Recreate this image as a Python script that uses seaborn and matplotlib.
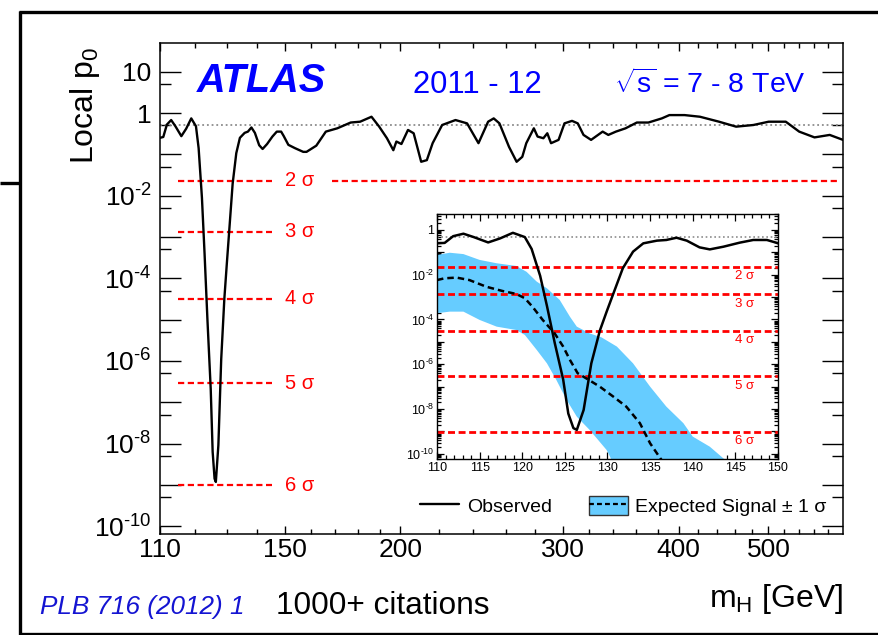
import numpy as np
import pandas as pd
import matplotlib
matplotlib.use("Agg")
import matplotlib.pyplot as plt
import matplotlib.transforms as mtransforms
from matplotlib.lines import Line2D
from matplotlib.patches import Patch
from matplotlib.ticker import FixedLocator, FuncFormatter, NullFormatter
import seaborn as sns

# ---------------------------------------------------------------------------
# Observed local p0 as a function of the Higgs boson mass (log10 of p0)
obs_mass = [110.0, 110.9, 111.9, 113.1, 114.3, 116.0, 117.4, 118.9, 120.3, 121.1,
            122.1, 122.9, 123.8, 124.8, 125.4, 126.0, 126.4, 127.2, 128.1, 129.1,
            129.9, 130.7, 131.8, 133.0, 134.2, 135.8, 136.9, 138.1, 139.3, 140.8,
            142.0, 143.6, 145.5, 147.1, 148.7, 149.6, 151.4, 153.9, 157.1, 158.4,
            162.3, 166.2, 171.0, 176.8, 181.0, 186.2, 189.8, 193.5, 196.6, 198.1,
            200.6, 203.9, 206.8, 210.7, 213.7, 216.8, 222.0, 229.5, 236.2, 243.0,
            248.9, 252.4, 256.0, 262.2, 267.2, 271.0, 273.7, 278.9, 281.5, 285.6,
            288.4, 291.1, 296.6, 301.0, 306.7, 311.1, 315.6, 321.6, 331.0, 335.7,
            342.1, 350.4, 360.4, 370.9, 383.5, 390.8, 405.9, 421.7, 442.2, 461.4,
            481.6, 500.3, 522.1, 539.8, 560.8, 582.4, 602.0]
obs_log10_p0 = [-0.60, -0.58, -0.28, -0.17, -0.32, -0.56, -0.38, -0.13, -0.32, -0.85,
                -2.05, -3.40, -5.03, -6.68, -8.20, -8.85, -8.93, -8.04, -5.96, -4.50,
                -3.65, -2.83, -1.71, -0.97, -0.60, -0.48, -0.45, -0.35, -0.48, -0.78,
                -0.87, -0.75, -0.57, -0.45, -0.45, -0.55, -0.77, -0.85, -0.94, -0.94,
                -0.79, -0.45, -0.37, -0.23, -0.21, -0.09, -0.33, -0.61, -0.90, -0.69,
                -0.75, -0.41, -0.49, -1.18, -1.14, -0.73, -0.29, -0.17, -0.25, -0.73,
                -0.21, -0.13, -0.25, -0.82, -1.18, -1.06, -0.73, -0.37, -0.57, -0.61,
                -0.49, -0.73, -0.65, -0.25, -0.19, -0.25, -0.53, -0.65, -0.45, -0.53,
                -0.45, -0.37, -0.23, -0.23, -0.13, -0.05, -0.05, -0.09, -0.21, -0.33,
                -0.29, -0.21, -0.21, -0.45, -0.59, -0.53, -0.65]

# Expected p0 for a SM Higgs signal (low-mass region)
exp_mass = [110.0, 110.9, 112.3, 113.8, 115.8, 117.7, 119.3, 120.3, 121.2, 122.4,
            123.8, 124.8, 125.6, 126.5, 127.9, 129.1, 130.7, 132.2, 133.8, 135.0,
            136.2, 136.8]
exp_log10_p0 = [-2.24, -2.16, -2.13, -2.24, -2.54, -2.73, -2.86, -3.05, -3.43, -4.02,
                -4.62, -5.21, -5.81, -6.40, -6.72, -7.00, -7.45, -7.89, -8.63, -9.53,
                -10.20, -10.50]

# +/- 1 sigma band around the expectation
band_hi_mass = [110.0, 111.5, 113.1, 115.0, 117.0, 119.3, 120.5, 121.7, 122.9, 124.4,
                125.6, 126.4, 127.9, 129.3, 131.1, 133.0, 135.0, 136.9, 138.9, 140.0,
                142.0, 143.8, 144.6]
band_hi_log10 = [-1.12, -1.02, -1.08, -1.34, -1.49, -1.61, -1.87, -2.31, -2.61, -3.13,
                 -3.88, -4.32, -4.62, -4.80, -5.21, -5.96, -7.00, -7.89, -8.63, -9.23,
                 -9.68, -10.27, -10.60]
band_lo_mass = [110.0, 111.5, 113.1, 115.0, 117.0, 119.3, 120.3, 121.7, 122.9, 124.0,
                125.2, 126.4, 127.9, 129.9, 130.3, 130.8]
band_lo_log10 = [-3.72, -3.65, -3.65, -4.02, -4.32, -4.47, -4.69, -5.36, -5.96, -6.70,
                 -7.59, -8.34, -8.93, -9.83, -10.13, -10.60]

# Significance reference levels (one-sided p-values)
sigma_levels = [2, 3, 4, 5, 6]
sigma_p0 = [2.275e-2, 1.350e-3, 3.167e-5, 2.867e-7, 9.866e-10]

# Axis ticks
x_major_ticks = [110, 150, 200, 300, 400, 500]
x_minor_ticks = [120, 130, 140, 160, 170, 180, 190, 220, 240, 260, 280, 320, 340, 360,
                 380, 420, 440, 460, 480, 520, 540, 560, 580]
y_labelled_exponents = [1, 0, -2, -4, -6, -8, -10]
inset_x_major = [110, 115, 120, 125, 130, 135, 140, 145, 150]
inset_y_labelled_exponents = [0, -2, -4, -6, -8, -10]

BAND_BLUE = "#66CCFF"
SIG_RED = "#FF0000"
HYPHEN = "\u2010"

# ---------------------------------------------------------------------------
sns.set_style("ticks")
plt.rcParams["font.family"] = ["Liberation Sans", "DejaVu Sans"]
plt.rcParams["mathtext.fontset"] = "custom"
plt.rcParams["mathtext.rm"] = "Liberation Sans"
plt.rcParams["mathtext.it"] = "Liberation Sans:italic"
plt.rcParams["mathtext.bf"] = "Liberation Sans:bold"
plt.rcParams["axes.edgecolor"] = "black"
plt.rcParams["text.color"] = "black"
plt.rcParams["xtick.color"] = "black"
plt.rcParams["ytick.color"] = "black"

obs = pd.DataFrame({"mH": obs_mass, "p0": 10.0 ** np.array(obs_log10_p0)})
expd = pd.DataFrame({"mH": exp_mass, "p0": 10.0 ** np.array(exp_log10_p0)})

W, H = 879, 635
fig = plt.figure(figsize=(W / 100, H / 100), dpi=100)


def fx(px):
    return px / W


def fy(py):
    return 1 - py / H


def power_label(e):
    sign = HYPHEN if e < 0 else ""
    return r"$\mathregular{10^{%s%d}}$" % (sign, abs(e))


# ---------------- main panel ----------------
ax = fig.add_axes([fx(160), fy(534), fx(683), 491 / H])
ax.set_xscale("log")
ax.set_yscale("log")

for sp in ax.spines.values():
    sp.set_linewidth(1.1)

ax.axhline(0.5, color="#8c8c8c", lw=1.3, ls=(0, (1, 1.6)), zorder=1)

# significance lines with labels
blend = mtransforms.blended_transform_factory(ax.transAxes, ax.transData)
for n, p in zip(sigma_levels, sigma_p0):
    ax.axhline(p, xmin=0.026, xmax=0.164, color=SIG_RED, lw=1.6,
               ls=(0, (2.8, 1.6)), zorder=2)
    ax.text(0.183, p, f"{n} σ", transform=blend, color=SIG_RED, fontsize=14.5,
            ha="left", va="center")
    if n == 2:
        ax.axhline(p, xmin=0.252, xmax=0.993, color=SIG_RED, lw=1.6,
                   ls=(0, (2.8, 1.6)), zorder=2)

sns.lineplot(data=obs, x="mH", y="p0", ax=ax, color="black", lw=1.7,
             estimator=None, sort=False, zorder=3)

ax.set_xlim(110, 602)
ax.set_ylim(10 ** -10.19, 10 ** 1.695)
ax.set_xlabel("")
ax.set_ylabel("")

ax.xaxis.set_major_locator(FixedLocator(x_major_ticks))
ax.xaxis.set_minor_locator(FixedLocator(x_minor_ticks))
ax.xaxis.set_major_formatter(FuncFormatter(lambda v, pos: f"{int(round(v))}"))
ax.xaxis.set_minor_formatter(NullFormatter())


def main_ylabel(v, pos):
    e = int(round(np.log10(v)))
    if e not in y_labelled_exponents:
        return ""
    if e == 0:
        return "1"
    if e == 1:
        return "10"
    return power_label(e)


ax.yaxis.set_major_locator(FixedLocator([10.0 ** e for e in range(-10, 2)]))
ax.yaxis.set_minor_locator(FixedLocator([5 * 10.0 ** e for e in range(-11, 1)]))
ax.yaxis.set_major_formatter(FuncFormatter(main_ylabel))
ax.yaxis.set_minor_formatter(NullFormatter())

ax.tick_params(axis="both", which="both", direction="in", top=True, right=True,
               width=1.0, labelsize=19)
ax.tick_params(axis="x", which="major", length=5.8, pad=3)
ax.tick_params(axis="x", which="minor", length=3.6)
ax.tick_params(axis="y", which="major", length=15, pad=6)
ax.tick_params(axis="y", which="minor", length=7.6)

# legend for the inset content
obs_handle = Line2D([], [], color="black", lw=1.7)
band_handle = (Patch(facecolor=BAND_BLUE, edgecolor="#333333", lw=1.0),
               Line2D([], [], color="black", lw=1.6, ls=(0, (2.2, 1.4))))
fig.legend([obs_handle, band_handle], ["Observed", "Expected Signal ± 1 σ"],
           loc="center left", bbox_to_anchor=(fx(420), fy(506)),
           bbox_transform=fig.transFigure, ncol=2, frameon=False, fontsize=14,
           handlelength=2.0, handleheight=1.1, handletextpad=0.4,
           columnspacing=1.9, borderpad=0, borderaxespad=0)

# ---------------- inset ----------------
ins = fig.add_axes([fx(437), fy(459), fx(341), 245 / H])
ins.set_yscale("log")
ins.set_facecolor("white")
for sp in ins.spines.values():
    sp.set_linewidth(1.0)

ins.fill(np.r_[band_hi_mass, band_lo_mass[::-1]],
         10.0 ** np.r_[band_hi_log10, band_lo_log10[::-1]],
         color=BAND_BLUE, lw=0, zorder=1)
ins.axhline(0.5, color="#8c8c8c", lw=1.2, ls=(0, (1, 1.6)), zorder=2)

blend_i = mtransforms.blended_transform_factory(ins.transAxes, ins.transData)
for n, p in zip(sigma_levels, sigma_p0):
    ins.axhline(p, color=SIG_RED, lw=2.0, ls=(0, (2.5, 1.3)), zorder=2)
    ins.annotate(f"{n} σ", xy=(0.903, p), xycoords=blend_i, xytext=(0, -9.5),
                 textcoords="offset pixels", color=SIG_RED, fontsize=9.5,
                 ha="center", va="center")

sns.lineplot(data=expd, x="mH", y="p0", ax=ins, color="black", lw=1.8,
             ls=(0, (2.6, 1.6)), estimator=None, sort=False, zorder=3)
sns.lineplot(data=obs, x="mH", y="p0", ax=ins, color="black", lw=1.8,
             estimator=None, sort=False, zorder=4)

ins.set_xlim(110, 150)
ins.set_ylim(10 ** -10.23, 10 ** 0.71)
ins.set_xlabel("")
ins.set_ylabel("")

ins.xaxis.set_major_locator(FixedLocator(inset_x_major))
ins.xaxis.set_minor_locator(FixedLocator(list(range(110, 151))))
ins.xaxis.set_major_formatter(FuncFormatter(lambda v, pos: f"{int(round(v))}"))


def inset_ylabel(v, pos):
    e = int(round(np.log10(v)))
    if e not in inset_y_labelled_exponents:
        return ""
    if e == 0:
        return "1"
    return power_label(e)


ins.yaxis.set_major_locator(FixedLocator([10.0 ** e for e in range(-10, 1)]))
ins.yaxis.set_minor_locator(FixedLocator([m * 10.0 ** e for e in range(-11, 1)
                                          for m in range(2, 10)]))
ins.yaxis.set_major_formatter(FuncFormatter(inset_ylabel))
ins.yaxis.set_minor_formatter(NullFormatter())
ins.tick_params(axis="both", which="both", direction="in", top=True, right=True,
                width=0.9, labelsize=9)
ins.tick_params(axis="both", which="major", length=5, pad=2)
ins.tick_params(axis="both", which="minor", length=2.8)

# ---------------- texts ----------------
fig.text(fx(85), fy(47), r"Local p$_\mathregular{0}$", rotation=90, fontsize=23,
         ha="center", va="top")
fig.text(fx(843), fy(607), r"m$_\mathregular{H}$ [GeV]", fontsize=23,
         ha="right", va="baseline")
fig.text(fx(197), fy(92), "ATLAS", fontsize=28.5, fontweight="bold",
         fontstyle="italic", color="#0000FF", ha="left", va="baseline")
fig.text(fx(413), fy(93), "2011 - 12", fontsize=22.3, color="#0000FF",
         ha="left", va="baseline")
fig.text(fx(614), fy(93), r"$\sqrt{\mathregular{s}}$ = 7 - 8 TeV", fontsize=20.5,
         color="#0000FF", ha="left", va="baseline")
fig.text(fx(40), fy(614), "PLB 716 (2012) 1", fontsize=18.8, fontstyle="italic",
         color="#1414D2", ha="left", va="baseline")
fig.text(fx(276), fy(614), "1000+ citations", fontsize=22.8, ha="left",
         va="baseline")

# ---------------- outer frame ----------------
frame_kw = dict(transform=fig.transFigure, color="black", lw=2.4,
                solid_capstyle="butt")
fig.add_artist(Line2D([fx(18.8), 1.0], [fy(11.7), fy(11.7)], **frame_kw))
fig.add_artist(Line2D([fx(20), fx(20)], [fy(10.5), 0.0], **frame_kw))
fig.add_artist(Line2D([0.0, fx(20)], [fy(183), fy(183)], **frame_kw))
fig.add_artist(Line2D([fx(18.8), 1.0], [fy(633.5), fy(633.5)], **frame_kw))

fig.savefig("out.png", dpi=100, facecolor="white")
